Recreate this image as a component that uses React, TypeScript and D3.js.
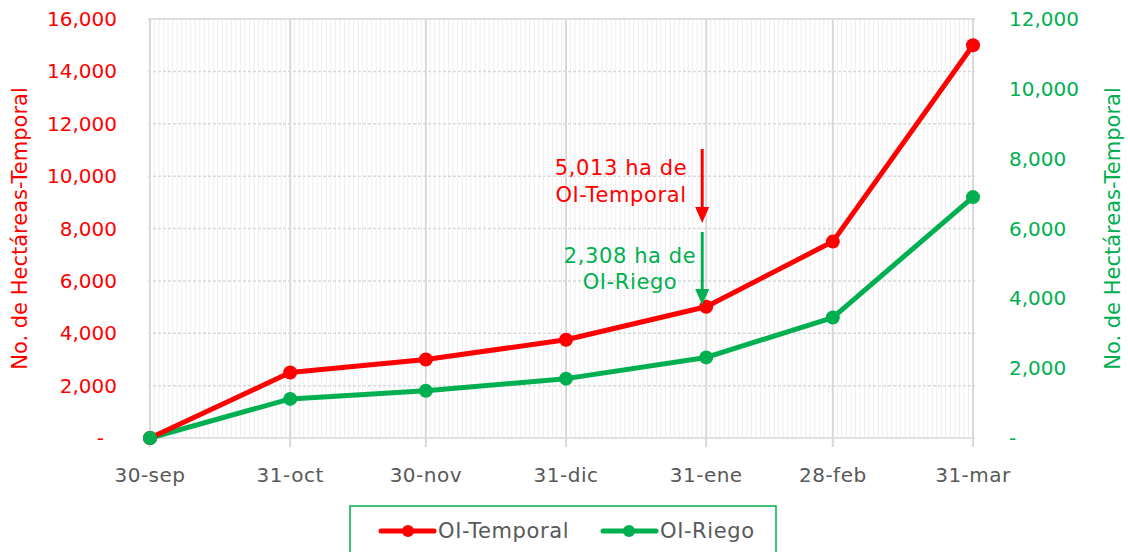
import React from 'react';
import * as d3 from 'd3';

// data
const dates = ['2021-09-30', '2021-10-31', '2021-11-30', '2021-12-31', '2022-01-31', '2022-02-28', '2022-03-31'];
const dateLabels = ['30-sep', '31-oct', '30-nov', '31-dic', '31-ene', '28-feb', '31-mar'];
const temporal = [0, 2500, 3000, 3750, 5013, 7500, 15000];
const riego = [0, 1120, 1350, 1700, 2308, 3450, 6900];
const leftTicks = [0, 2000, 4000, 6000, 8000, 10000, 12000, 14000, 16000];
const rightTicks = [0, 2000, 4000, 6000, 8000, 10000, 12000];
const axisTitle = 'No. de Hectáreas-Temporal';
const seriesNames = ['OI-Temporal', 'OI-Riego'];

const RED = '#ff0000';
const GREEN = '#00b050';
const GRAY = '#595959';
const FONT = '"DejaVu Sans", sans-serif';

export default function App() {
  const width = 1128;
  const height = 552;
  const left = 150;
  const right = 973;
  const top = 19;
  const bottom = 438;

  const parsed = dates.map(d => new Date(d + 'T00:00:00Z'));
  const x = d3.scaleUtc().domain([parsed[0], parsed[parsed.length - 1]]).range([left, right]);
  const yL = d3.scaleLinear().domain([0, 16000]).range([bottom, top]);
  const yR = d3.scaleLinear().domain([0, 12000]).range([bottom, top]);
  const fmt = (v: number) => (v === 0 ? '-' : d3.format(',')(v));

  const days = d3.utcDay.range(parsed[0], parsed[parsed.length - 1]);

  const lineL = d3.line<number>().x((_, i) => x(parsed[i])).y(d => yL(d));
  const lineR = d3.line<number>().x((_, i) => x(parsed[i])).y(d => yR(d));

  const annX = x(parsed[4]);

  return (
    <svg width={width} height={height} style={{ position: 'absolute', left: 0, top: 0 }} fontFamily={FONT}>
      <rect width={width} height={height} fill="#fff" />

      {/* minor daily gridlines */}
      {days.map((d, i) => (
        <line key={'m' + i} x1={x(d)} x2={x(d)} y1={top} y2={bottom} stroke="#eeeeee" strokeWidth={1} />
      ))}

      {/* horizontal gridlines */}
      {leftTicks.slice(1).map(t => (
        <line key={'h' + t} x1={left - 2} x2={right + 2} y1={yL(t)} y2={yL(t)} stroke="#d9d9d9" strokeWidth={1.5} strokeDasharray="3,2" />
      ))}
      <line x1={left - 2} x2={right + 2} y1={top} y2={top} stroke="#d9d9d9" strokeWidth={1.5} />
      <line x1={left - 2} x2={right + 2} y1={bottom} y2={bottom} stroke="#d9d9d9" strokeWidth={1.5} />

      {/* major vertical gridlines */}
      {parsed.map((d, i) => (
        <line key={'v' + i} x1={x(d)} x2={x(d)} y1={top} y2={bottom + 9} stroke="#d9d9d9" strokeWidth={2} />
      ))}

      {/* left axis */}
      {leftTicks.map(t => (
        <text key={'l' + t} x={t === 0 ? 104 : 117} y={yL(t)} dy="0.35em" textAnchor="end" fill={RED} fontSize={20}>
          {fmt(t)}
        </text>
      ))}
      <text transform={`translate(27,${(top + bottom) / 2}) rotate(-90)`} textAnchor="middle" fill={RED} fontSize={21}>
        {axisTitle}
      </text>

      {/* right axis */}
      {rightTicks.map(t => (
        <text key={'r' + t} x={1009} y={yR(t)} dy="0.35em" textAnchor="start" fill={GREEN} fontSize={20}>
          {fmt(t)}
        </text>
      ))}
      <text transform={`translate(1120,${(top + bottom) / 2}) rotate(-90)`} textAnchor="middle" fill={GREEN} fontSize={21}>
        {axisTitle}
      </text>

      {/* x axis labels */}
      {parsed.map((d, i) => (
        <text key={'x' + i} x={x(d)} y={475} dy="0.35em" textAnchor="middle" fill={GRAY} fontSize={20} letterSpacing={0.5}>
          {dateLabels[i]}
        </text>
      ))}

      {/* series */}
      <path d={lineR(riego) || ''} fill="none" stroke={GREEN} strokeWidth={5} strokeLinejoin="round" />
      {riego.map((v, i) => (
        <circle key={'gr' + i} cx={x(parsed[i])} cy={yR(v)} r={7} fill={GREEN} />
      ))}
      <path d={lineL(temporal) || ''} fill="none" stroke={RED} strokeWidth={5} strokeLinejoin="round" />
      {temporal.map((v, i) => (
        <circle key={'rd' + i} cx={x(parsed[i])} cy={yL(v)} r={7} fill={RED} />
      ))}
      <circle cx={x(parsed[0])} cy={yR(0)} r={7} fill={GREEN} />

      {/* annotations */}
      <g fontSize={21} letterSpacing={0.6} textAnchor="middle">
        <line x1={annX - 4} x2={annX - 4} y1={149} y2={210} stroke={RED} strokeWidth={3} />
        <path d={`M${annX - 11},${207} L${annX + 3},${207} L${annX - 4},${223} Z`} fill={RED} />
        <text x={621} y={175} fill={RED}>{`${d3.format(',')(temporal[4])} ha de`}</text>
        <text x={621} y={202} fill={RED}>{seriesNames[0]}</text>

        <line x1={annX - 4} x2={annX - 4} y1={232} y2={292} stroke={GREEN} strokeWidth={3} />
        <path d={`M${annX - 11},${289} L${annX + 3},${289} L${annX - 4},${305} Z`} fill={GREEN} />
        <text x={630} y={263} fill={GREEN}>{`${d3.format(',')(riego[4])} ha de`}</text>
        <text x={630} y={289} fill={GREEN}>{seriesNames[1]}</text>
      </g>

      {/* legend */}
      <rect x={350} y={506} width={426} height={60} fill="#fff" stroke={GREEN} strokeWidth={1.5} />
      <line x1={381} x2={434} y1={531} y2={531} stroke={RED} strokeWidth={5} strokeLinecap="round" />
      <circle cx={408} cy={531} r={6} fill={RED} />
      <text x={438} y={531} dy="0.35em" fill={GRAY} fontSize={21} letterSpacing={0.6}>{seriesNames[0]}</text>
      <line x1={603} x2={656} y1={531} y2={531} stroke={GREEN} strokeWidth={5} strokeLinecap="round" />
      <circle cx={629} cy={531} r={6} fill={GREEN} />
      <text x={660} y={531} dy="0.35em" fill={GRAY} fontSize={21} letterSpacing={0.6}>{seriesNames[1]}</text>
    </svg>
  );
}
